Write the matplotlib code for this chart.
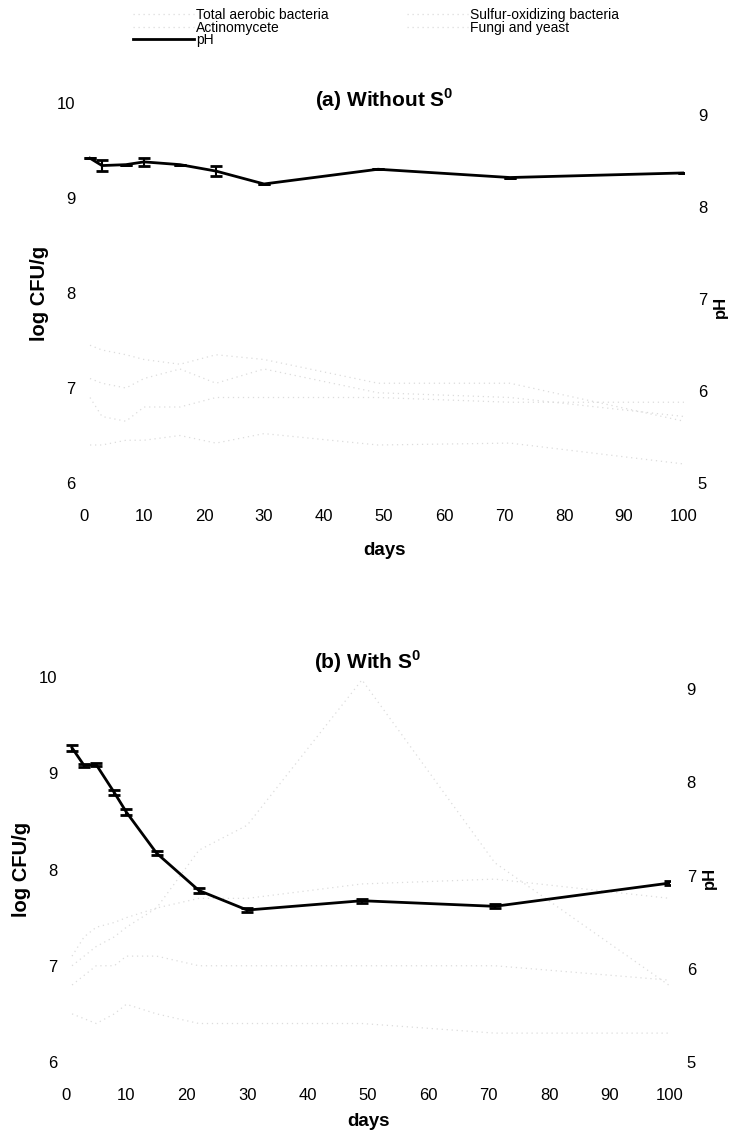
import numpy as np
import matplotlib.pyplot as plt
from matplotlib.lines import Line2D

plt.rcParams['font.family'] = ['Liberation Sans', 'DejaVu Sans']
plt.rcParams['mathtext.fontset'] = 'custom'
plt.rcParams['mathtext.rm'] = 'Liberation Sans'
plt.rcParams['mathtext.bf'] = 'Liberation Sans:bold'

# ---- data ----
# (a) without S0
days_a = [1, 3, 7, 10, 16, 22, 30, 49, 71, 100]
ph_a = [8.53, 8.45, 8.46, 8.49, 8.46, 8.39, 8.25, 8.41, 8.32, 8.37]
ph_err_a = [0.0, 0.06, 0.0, 0.04, 0.0, 0.05, 0.0, 0.0, 0.0, 0.0]
tab_a = [7.45, 7.40, 7.35, 7.30, 7.25, 7.35, 7.30, 7.05, 7.05, 6.65]
sob_a = [7.10, 7.05, 7.00, 7.10, 7.20, 7.05, 7.20, 6.95, 6.90, 6.70]
act_a = [6.40, 6.40, 6.45, 6.45, 6.50, 6.42, 6.52, 6.40, 6.42, 6.20]
fungi_a = [6.90, 6.70, 6.65, 6.80, 6.80, 6.90, 6.90, 6.90, 6.85, 6.85]

# (b) with S0
days_b = [1, 3, 5, 8, 10, 15, 22, 30, 49, 71, 100]
ph_b = [8.37, 8.18, 8.19, 7.89, 7.68, 7.24, 6.84, 6.63, 6.73, 6.67, 6.92]
ph_err_b = [0.03, 0.02, 0.02, 0.03, 0.03, 0.02, 0.03, 0.02, 0.02, 0.02, 0.02]
tab_b = [7.00, 7.10, 7.20, 7.30, 7.40, 7.60, 7.70, 7.70, 7.85, 7.90, 7.70]
sob_b = [7.10, 7.30, 7.40, 7.45, 7.50, 7.60, 8.20, 8.46, 9.97, 8.07, 6.79]
act_b = [6.50, 6.45, 6.40, 6.50, 6.60, 6.50, 6.40, 6.40, 6.40, 6.30, 6.30]
fungi_b = [6.80, 6.90, 7.00, 7.00, 7.10, 7.10, 7.00, 7.00, 7.00, 7.00, 6.85]

x_ticks = [0, 10, 20, 30, 40, 50, 60, 70, 80, 90, 100]
cfu_ticks = [6, 7, 8, 9, 10]
ph_ticks = [5, 6, 7, 8, 9]

FAINT = '#dcdcdc'
W, H = 732, 1134


def draw_panel(fig, box, days, tab, sob, act, fungi, ph, ph_err, title,
               title_y, right_pad, ph_label_px, days_pad):
    left, top, right, bottom = box
    ax = fig.add_axes([left / W, 1 - bottom / H, (right - left) / W, (bottom - top) / H])
    ax2 = ax.twinx()

    # faint bacterial counts (barely visible in the scan)
    for series in (tab, sob, act, fungi):
        ax.plot(days, series, color=FAINT, lw=0.9, ls=(0, (1, 3)))
    ax2.errorbar(days, ph, yerr=ph_err, color='black', lw=2.0,
                 capsize=4, capthick=2, elinewidth=1.5)

    ax.set_xlim(0, 100)
    ax.set_ylim(6, 10)
    ax2.set_ylim(5.12, 9.13)
    ax.set_xticks(x_ticks)
    ax.set_yticks(cfu_ticks)
    ax2.set_yticks(ph_ticks)
    for a in (ax, ax2):
        for s in a.spines.values():
            s.set_visible(False)
    ax.tick_params(axis='both', length=0, labelsize=12)
    ax.tick_params(axis='x', pad=19)
    ax.tick_params(axis='y', pad=6)
    ax2.tick_params(axis='y', length=0, labelsize=12, pad=right_pad)

    ax.set_xlabel('days', fontsize=13.5, fontweight='bold', labelpad=days_pad)
    ax.set_ylabel('log CFU/g', fontsize=14.5, fontweight='bold', labelpad=6)
    fig.text(ph_label_px[0] / W, 1 - ph_label_px[1] / H, 'pH', rotation=90,
             ha='center', va='center', fontsize=12, fontweight='bold')
    ax.text(0.5, title_y, title, transform=ax.transAxes, ha='center',
            va='center', fontsize=15, fontweight='bold')
    return ax


fig = plt.figure(figsize=(W / 100, H / 100), dpi=100)

draw_panel(fig, (84, 103, 684, 483), days_a, tab_a, sob_a, act_a, fungi_a,
           ph_a, ph_err_a, r'(a) Without S$^\mathbf{0}$', 1.008, 10,
           (720, 307), 13)
draw_panel(fig, (66, 677, 670, 1062), days_b, tab_b, sob_b, act_b, fungi_b,
           ph_b, ph_err_b, r'(b) With S$^\mathbf{0}$', 1.039, 12,
           (709, 878), 7)

faint = Line2D([], [], color=FAINT, lw=0.9, ls=(0, (1, 3)))
handles = [faint, faint, Line2D([], [], color='black', lw=2.0), faint, faint]
labels = ['Total aerobic bacteria', 'Actinomycete', 'pH',
          'Sulfur-oxidizing bacteria', 'Fungi and yeast']
fig.legend(handles, labels, ncol=2, loc='upper left',
           bbox_to_anchor=(133 / W, 1 - 8 / H), frameon=False, fontsize=10,
           handlelength=4.4, handletextpad=0.15, columnspacing=5.6,
           labelspacing=-0.1, borderpad=0, borderaxespad=0)

fig.savefig('out.png', dpi=100)
